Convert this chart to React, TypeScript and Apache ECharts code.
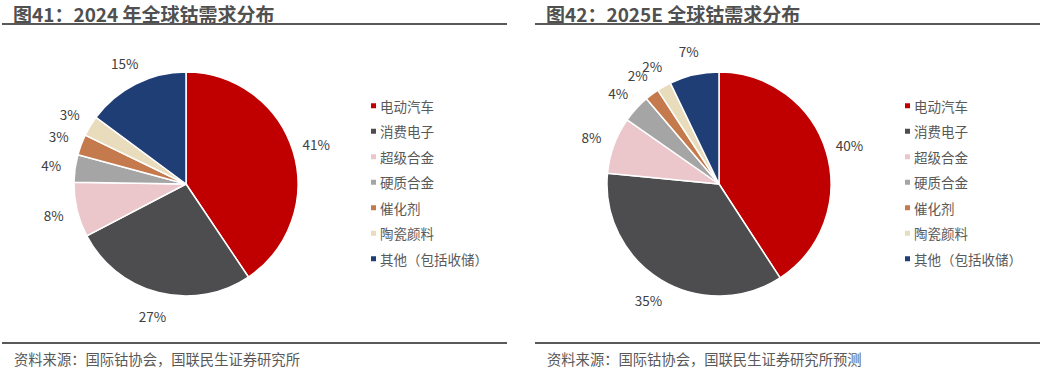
import React, { useEffect, useRef } from "react";
import * as echarts from "echarts";

const categories = ["电动汽车", "消费电子", "超级合金", "硬质合金", "催化剂", "陶瓷颜料", "其他（包括收储）"];
const values2024 = [41, 27, 8, 4, 3, 3, 15];
const values2025 = [40, 35, 8, 4, 2, 2, 7];
const colors = ["#C00000", "#4D4D4F", "#EBC6CA", "#A5A5A5", "#C47A4C", "#E8DCBC", "#1F3E75"];
const title1 = "图41：2024 年全球钴需求分布";
const title2 = "图42：2025E 全球钴需求分布";
const source1 = "资料来源：国际钴协会，国联民生证券研究所";
const source2 = "资料来源：国际钴协会，国联民生证券研究所预测";

const FONT = "'Noto Sans CJK SC', 'Noto Sans', sans-serif";
const CY = 184;
const R = 112;
const LABEL_R = 136;

export default function App() {
  const ref = useRef<HTMLDivElement>(null);
  useEffect(() => {
    if (!ref.current) return;
    const chart = echarts.init(ref.current, null, { renderer: "svg" });
    const mkData = (vals: number[]) =>
      categories.map((name, i) => ({ name, value: vals[i], itemStyle: { color: colors[i] } }));
    const pie = (vals: number[], cx: number) => {
      const total = vals.reduce((a, b) => a + b, 0);
      return {
        type: "pie",
        center: [cx, CY],
        radius: [0, R],
        startAngle: 90,
        clockwise: true,
        avoidLabelOverlap: false,
        data: mkData(vals),
        itemStyle: { borderColor: "#fff", borderWidth: 1.5 },
        label: {
          show: true,
          position: "outside",
          formatter: (p: any) => `${p.value}%`,
          color: "#404040",
          fontSize: 13.5,
          fontFamily: FONT,
          overflow: "none",
          width: 40,
          align: "center",
        },
        labelLine: { show: false },
        labelLayout: (p: any) => {
          const i = p.dataIndex;
          let cum = 0;
          for (let k = 0; k < i; k++) cum += vals[k];
          const mid = ((cum + vals[i] / 2) / total) * Math.PI * 2;
          return {
            x: cx + LABEL_R * Math.sin(mid),
            y: CY - LABEL_R * Math.cos(mid),
            align: "center",
            verticalAlign: "middle",
          };
        },
        emphasis: { disabled: true },
      };
    };
    const legend = (left: number) => ({
      orient: "vertical",
      left,
      top: 94,
      itemWidth: 7,
      itemHeight: 7,
      itemGap: 12,
      icon: "rect",
      data: categories,
      textStyle: { color: "#595959", fontSize: 13.5, fontFamily: FONT, padding: [0, 0, 0, -2] },
      selectedMode: false,
    });
    const titleText = (x: number, text: string) => ({
      type: "text",
      x,
      y: 13,
      style: { text, fill: "#505050", font: `bold 19px ${FONT}`, verticalAlign: "middle" },
    });
    const hline = (x1: number, x2: number, y: number) => ({
      type: "line",
      shape: { x1, y1: y, x2, y2: y },
      style: { stroke: "#595959", lineWidth: 2 },
    });
    const srcText = (x: number, text: string) => ({
      type: "text",
      x,
      y: 358,
      style: { text, fill: "#595959", font: `14.3px ${FONT}`, verticalAlign: "middle" },
    });
    chart.setOption({
      animation: false,
      backgroundColor: "#fff",
      legend: [legend(364), legend(898)],
      series: [pie(values2024, 186), pie(values2025, 719)],
      graphic: [
        titleText(13, title1),
        titleText(546, title2),
        hline(2, 507, 24),
        hline(535, 1040, 24),
        hline(2, 507, 343),
        hline(535, 1040, 343),
        srcText(14, source1),
        srcText(547, source2),
      ],
    });
    return () => chart.dispose();
  }, []);
  return (
    <div
      ref={ref}
      style={{ position: "fixed", left: 0, top: 0, width: 1045, height: 376 }}
    />
  );
}
